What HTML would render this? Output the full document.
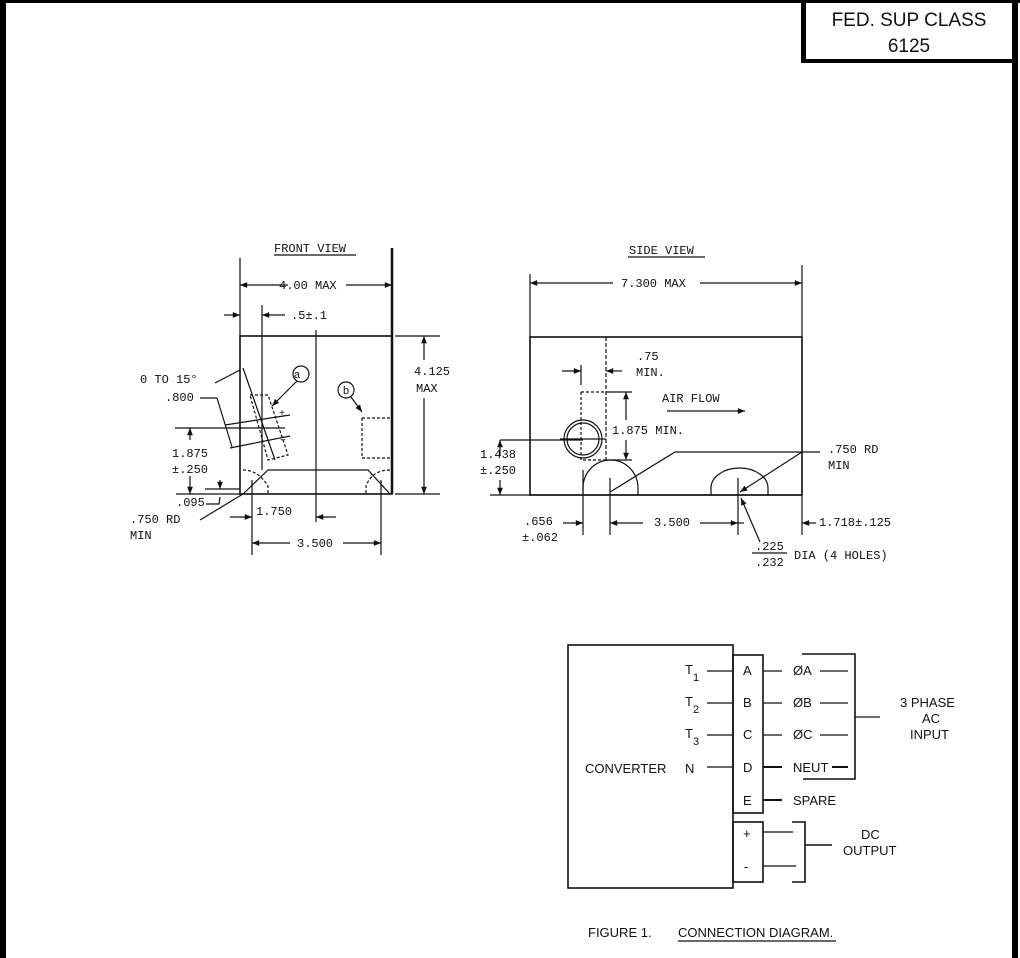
<!DOCTYPE html>
<html><head><meta charset="utf-8"><style>
html,body{margin:0;padding:0;background:#fff}
svg{display:block}
text{font-family:"Liberation Mono",monospace;font-size:12px;fill:#111}
.s{font-family:"Liberation Sans",sans-serif;font-size:13px}
</style></head><body>
<svg width="1020" height="958" viewBox="0 0 1020 958" xmlns="http://www.w3.org/2000/svg">
<defs>
<marker id="ar" viewBox="0 0 10 10" refX="10" refY="5" markerWidth="8" markerHeight="6" orient="auto-start-reverse"><path d="M0,1 L10,5 L0,9 z" fill="#111"/></marker>
</defs>
<rect x="0" y="0" width="1020" height="3" fill="#000"/>
<rect x="0" y="0" width="6" height="958" fill="#000"/>
<rect x="1012" y="0" width="6" height="958" fill="#000"/>
<rect x="801" y="0" width="5" height="63" fill="#000"/>
<rect x="801" y="59" width="217" height="4" fill="#000"/>
<text x="909" y="26" text-anchor="middle" style="font-family:'Liberation Sans',sans-serif;font-size:19px">FED. SUP CLASS</text>
<text x="909" y="52" text-anchor="middle" style="font-family:'Liberation Sans',sans-serif;font-size:19px">6125</text>

<g stroke="#111" fill="none" stroke-width="1.2">
<line x1="274" y1="255" x2="356" y2="255"/>
<rect x="240" y="336" width="152" height="158" stroke-width="1.6"/>
<line x1="392" y1="248" x2="392" y2="494" stroke-width="2.5"/>
<line x1="240" y1="258" x2="240" y2="336"/>
<line x1="240" y1="285" x2="288" y2="285" marker-start="url(#ar)"/>
<line x1="346" y1="285" x2="392" y2="285" marker-end="url(#ar)"/>
<line x1="316" y1="330" x2="316" y2="522"/>
<line x1="262" y1="305" x2="262" y2="470"/>
<line x1="224" y1="315" x2="240" y2="315" marker-end="url(#ar)"/>
<line x1="285" y1="315" x2="262" y2="315" marker-end="url(#ar)"/>
<line x1="395" y1="336" x2="440" y2="336"/>
<line x1="395" y1="494" x2="440" y2="494"/>
<line x1="424" y1="360" x2="424" y2="336" marker-end="url(#ar)"/>
<line x1="424" y1="398" x2="424" y2="494" marker-end="url(#ar)"/>
<path d="M243,494 L268,470 L368,470 L390,494"/>
<path d="M243,470 Q258,470 268,486 L268,494 M390,470 Q372,470 366,486 L366,494" stroke-dasharray="3,2"/>
<circle cx="301" cy="374" r="8"/>
<circle cx="346" cy="390" r="8"/>
<line x1="297" y1="381" x2="272" y2="406" marker-end="url(#ar)"/>
<line x1="351" y1="397" x2="362" y2="412" marker-end="url(#ar)"/>
<path d="M362,418 L362,458 L391,458 M362,418 L391,418" stroke-dasharray="3,2"/>
<path d="M250,395 L268,395 L288,455 L268,460 Z" stroke-dasharray="3,2"/>
<line x1="243" y1="368" x2="275" y2="460"/>
<line x1="215" y1="383" x2="240" y2="370"/>
<line x1="200" y1="398" x2="217" y2="398"/>
<line x1="217" y1="398" x2="232" y2="447"/>
<line x1="225" y1="425" x2="290" y2="415"/>
<line x1="230" y1="448" x2="290" y2="436"/>
<line x1="175" y1="428" x2="285" y2="428"/>
<line x1="190" y1="440" x2="190" y2="428" marker-end="url(#ar)"/>
<line x1="190" y1="476" x2="190" y2="494" marker-end="url(#ar)"/>
<line x1="176" y1="494" x2="240" y2="494"/>
<line x1="205" y1="489" x2="240" y2="489"/>
<line x1="220" y1="480" x2="220" y2="489" marker-end="url(#ar)"/>
<path d="M206,504 L219,504 L220,497"/>
<line x1="200" y1="520" x2="243" y2="494"/>
<line x1="252" y1="480" x2="252" y2="555"/>
<line x1="381" y1="480" x2="381" y2="555"/>
<line x1="230" y1="517" x2="252" y2="517" marker-end="url(#ar)"/>
<line x1="336" y1="517" x2="316" y2="517" marker-end="url(#ar)"/>
<line x1="290" y1="543" x2="252" y2="543" marker-end="url(#ar)"/>
<line x1="343" y1="543" x2="381" y2="543" marker-end="url(#ar)"/>

<line x1="628" y1="257" x2="705" y2="257"/>
<rect x="530" y="337" width="272" height="158" stroke-width="1.6"/>
<line x1="490" y1="495" x2="802" y2="495"/>
<line x1="530" y1="274" x2="530" y2="337"/>
<line x1="802" y1="265" x2="802" y2="337"/>
<line x1="530" y1="283" x2="613" y2="283" marker-start="url(#ar)"/>
<line x1="700" y1="283" x2="802" y2="283" marker-end="url(#ar)"/>
<line x1="606" y1="337" x2="606" y2="460" stroke-dasharray="4,2"/>
<path d="M581,392 L606,392 M581,392 L581,460 L606,460" stroke-dasharray="3,2"/>
<circle cx="583" cy="439" r="19"/><circle cx="583" cy="439" r="16"/>
<line x1="560" y1="439" x2="606" y2="439"/>
<line x1="581" y1="365" x2="581" y2="385"/>
<line x1="562" y1="371" x2="581" y2="371" marker-end="url(#ar)"/>
<line x1="622" y1="371" x2="606" y2="371" marker-end="url(#ar)"/>
<line x1="606" y1="392" x2="632" y2="392"/>
<line x1="606" y1="460" x2="632" y2="460"/>
<line x1="626" y1="420" x2="626" y2="392" marker-end="url(#ar)"/>
<line x1="626" y1="440" x2="626" y2="460" marker-end="url(#ar)"/>
<line x1="667" y1="411" x2="745" y2="411" marker-end="url(#ar)"/>
<path d="M583,495 L583,488 A27.5,28 0 0 1 638,488 L638,495"/>
<path d="M711,495 L711,488 A28.5,20 0 0 1 768,488 L768,495"/>
<line x1="500" y1="440" x2="583" y2="440"/>
<line x1="500" y1="455" x2="500" y2="440" marker-end="url(#ar)"/>
<line x1="500" y1="480" x2="500" y2="495" marker-end="url(#ar)"/>
<path d="M610,492 L675,452 L820,452"/>
<line x1="802" y1="452" x2="740" y2="492" marker-end="url(#ar)"/>
<line x1="583" y1="470" x2="583" y2="535"/>
<line x1="610" y1="478" x2="610" y2="535"/>
<line x1="738" y1="478" x2="738" y2="535"/>
<line x1="802" y1="495" x2="802" y2="535"/>
<line x1="563" y1="523" x2="583" y2="523" marker-end="url(#ar)"/>
<line x1="643" y1="523" x2="610" y2="523" marker-end="url(#ar)"/>
<line x1="700" y1="523" x2="738" y2="523" marker-end="url(#ar)"/>
<line x1="744" y1="523" x2="738" y2="523"/>
<line x1="816" y1="523" x2="802" y2="523" marker-end="url(#ar)"/>
<line x1="760" y1="542" x2="741" y2="498" marker-end="url(#ar)"/>
<line x1="752" y1="553" x2="787" y2="553"/>

<rect x="568" y="645" width="165" height="243" stroke-width="1.6"/>
<rect x="733" y="655" width="30" height="158" stroke-width="1.6"/>
<rect x="733" y="822" width="30" height="60" stroke-width="1.6"/>
<line x1="707" y1="671" x2="733" y2="671"/>
<line x1="707" y1="703" x2="733" y2="703"/>
<line x1="707" y1="735" x2="733" y2="735"/>
<line x1="707" y1="767" x2="733" y2="767"/>
<line x1="763" y1="671" x2="782" y2="671"/>
<line x1="763" y1="703" x2="782" y2="703"/>
<line x1="763" y1="735" x2="782" y2="735"/>
<line x1="763" y1="767" x2="782" y2="767" stroke-width="2"/>
<line x1="763" y1="800" x2="782" y2="800" stroke-width="2"/>
<line x1="820" y1="671" x2="848" y2="671"/>
<line x1="820" y1="703" x2="848" y2="703"/>
<line x1="820" y1="735" x2="848" y2="735"/>
<line x1="832" y1="767" x2="848" y2="767" stroke-width="2"/>
<path d="M802,654 L855,654 L855,779 L803,779" stroke-width="1.6"/>
<line x1="855" y1="717" x2="880" y2="717"/>
<line x1="763" y1="832" x2="793" y2="832"/>
<line x1="763" y1="866" x2="796" y2="866"/>
<path d="M792,822 L805,822 L805,882 L792,882" stroke-width="1.6"/>
<line x1="805" y1="845" x2="832" y2="845" stroke-width="1.6"/>
<line x1="678" y1="941" x2="836" y2="941"/>
</g>

<g>
<text x="274" y="252">FRONT VIEW</text>
<text x="279" y="289">4.00 MAX</text>
<text x="291" y="319">.5±.1</text>
<text x="414" y="375">4.125</text>
<text x="416" y="392">MAX</text>
<text x="140" y="383">0 TO 15°</text>
<text x="165" y="401">.800</text>
<text x="297" y="378" text-anchor="middle" style="font-size:11px">a</text>
<text x="346" y="394" text-anchor="middle" style="font-size:11px">b</text>
<text x="279" y="416" style="font-size:10px">+</text>
<text x="280" y="442" style="font-size:10px">=</text>
<text x="172" y="457">1.875</text>
<text x="172" y="473">±.250</text>
<text x="176" y="506">.095</text>
<text x="130" y="523">.750 RD</text>
<text x="130" y="539">MIN</text>
<text x="256" y="515">1.750</text>
<text x="297" y="547">3.500</text>

<text x="629" y="254">SIDE VIEW</text>
<text x="621" y="287">7.300 MAX</text>
<text x="637" y="360">.75</text>
<text x="636" y="376">MIN.</text>
<text x="662" y="402">AIR FLOW</text>
<text x="612" y="434">1.875 MIN.</text>
<text x="480" y="458">1.438</text>
<text x="480" y="474">±.250</text>
<text x="828" y="453">.750 RD</text>
<text x="828" y="469">MIN</text>
<text x="524" y="525">.656</text>
<text x="522" y="541">±.062</text>
<text x="654" y="526">3.500</text>
<text x="819" y="526">1.718±.125</text>
<text x="755" y="550">.225</text>
<text x="755" y="566">.232</text>
<text x="794" y="559">DIA (4 HOLES)</text>

<text class="s" x="585" y="773">CONVERTER</text>
<text class="s" x="685" y="674">T</text><text class="s" x="693" y="681" style="font-size:11px">1</text>
<text class="s" x="685" y="706">T</text><text class="s" x="693" y="713" style="font-size:11px">2</text>
<text class="s" x="685" y="738">T</text><text class="s" x="693" y="745" style="font-size:11px">3</text>
<text class="s" x="685" y="773">N</text>
<text class="s" x="743" y="675">A</text>
<text class="s" x="743" y="707">B</text>
<text class="s" x="743" y="739">C</text>
<text class="s" x="743" y="772">D</text>
<text class="s" x="743" y="805">E</text>
<text class="s" x="743" y="838">+</text>
<text class="s" x="744" y="871">-</text>
<text class="s" x="793" y="675">ØA</text>
<text class="s" x="793" y="707">ØB</text>
<text class="s" x="793" y="739">ØC</text>
<text class="s" x="793" y="772">NEUT</text>
<text class="s" x="793" y="805">SPARE</text>
<text class="s" x="900" y="707">3 PHASE</text>
<text class="s" x="922" y="723">AC</text>
<text class="s" x="910" y="739">INPUT</text>
<text class="s" x="861" y="839">DC</text>
<text class="s" x="843" y="855">OUTPUT</text>
<text class="s" x="588" y="937">FIGURE 1.</text>
<text class="s" x="678" y="937">CONNECTION DIAGRAM.</text>
</g>
</svg>
</body></html>
